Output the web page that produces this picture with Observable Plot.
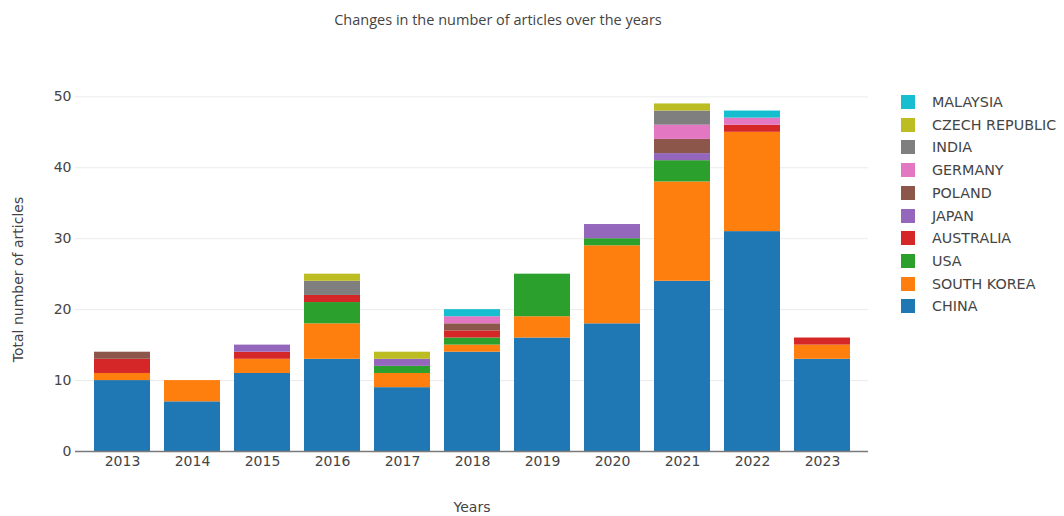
<!DOCTYPE html>
<html><head><meta charset="utf-8">
<script src="https://cdn.jsdelivr.net/npm/d3@7"></script>
<script src="https://cdn.jsdelivr.net/npm/@observablehq/plot@0.6"></script>
<style>
body{margin:0;background:#fff;}
#wrap{position:relative;width:1064px;height:516px;overflow:hidden;}
#title{position:absolute;left:0;width:996px;top:10px;text-align:center;font:14.5px "Open Sans";color:#444;}
#chart{position:absolute;left:0;top:0;}
.lg{position:absolute;left:901px;height:14px;display:flex;align-items:center;font:14.3px "DejaVu Sans";color:#444;white-space:nowrap;}
.lg span.sw{display:inline-block;width:14px;height:14px;margin-right:17px;}
</style></head><body>
<div id="wrap">
<div id="chart"></div>
<div id="title">Changes in the number of articles over the years</div>
<div id="legend"></div>
</div>
<script>
const years = ["2013","2014","2015","2016","2017","2018","2019","2020","2021","2022","2023"];
const countries = ["CHINA","SOUTH KOREA","USA","AUSTRALIA","JAPAN","POLAND","GERMANY","INDIA","CZECH REPUBLIC","MALAYSIA"];
const china      = [10, 7, 11, 13, 9, 14, 16, 18, 24, 31, 13];
const southKorea = [ 1, 3,  2,  5, 2,  1,  3, 11, 14, 14,  2];
const usa        = [ 0, 0,  0,  3, 1,  1,  6,  1,  3,  0,  0];
const australia  = [ 2, 0,  1,  1, 0,  1,  0,  0,  0,  1,  1];
const japan      = [ 0, 0,  1,  0, 1,  0,  0,  2,  1,  0,  0];
const poland     = [ 1, 0,  0,  0, 0,  1,  0,  0,  2,  0,  0];
const germany    = [ 0, 0,  0,  0, 0,  1,  0,  0,  2,  1,  0];
const india      = [ 0, 0,  0,  2, 0,  0,  0,  0,  2,  0,  0];
const czech      = [ 0, 0,  0,  1, 1,  0,  0,  0,  1,  0,  0];
const malaysia   = [ 0, 0,  0,  0, 0,  1,  0,  0,  0,  1,  0];
const yTicks = [0, 10, 20, 30, 40, 50];
const colors = ["#1f77b4","#ff7f0e","#2ca02c","#d62728","#9467bd","#8c564b","#e377c2","#7f7f7f","#bcbd22","#17becf"];

const series = [china, southKorea, usa, australia, japan, poland, germany, india, czech, malaysia];
const data = [];
years.forEach((yr, i) => {
  countries.forEach((c, j) => {
    const v = series[j][i];
    if (v > 0) data.push({year: yr, country: c, value: v});
  });
});

const chart = Plot.plot({
  width: 1064,
  height: 516,
  marginLeft: 75,
  marginRight: 196,
  marginTop: 85,
  marginBottom: 65,
  style: {fontFamily: "DejaVu Sans", fontSize: "14px", color: "#444", background: "#fff"},
  x: {type: "band", domain: years, padding: 0.2},
  y: {domain: [0, 51.6]},
  color: {domain: countries, range: colors},
  marks: [
    Plot.gridY(yTicks.slice(1), {stroke: "#ebebeb", strokeOpacity: 1}),
    Plot.barY(data, {x: "year", y: "value", fill: "country", order: countries}),
    Plot.ruleY([0], {stroke: "#7a7a7a", strokeWidth: 1.5}),
    Plot.axisX({tickSize: 0, tickPadding: 5, label: "Years", labelAnchor: "center", labelOffset: 60, labelArrow: "none", fontSize: 14}),
    Plot.axisY({ticks: yTicks, tickSize: 0, tickPadding: 4, label: null}),
    Plot.text(["Total number of articles"], {frameAnchor: "left", text: d => d, rotate: -90, textAnchor: "middle", dx: -57, dy: 11, fontSize: 14, fill: "#444"})
  ]
});
document.getElementById("chart").appendChild(chart);

const lg = document.getElementById("legend");
countries.slice().reverse().forEach((c, i) => {
  const d = document.createElement("div");
  d.className = "lg";
  d.style.top = (95 + i * 22.7) + "px";
  const sw = document.createElement("span");
  sw.className = "sw";
  sw.style.background = colors[countries.indexOf(c)];
  d.appendChild(sw);
  d.appendChild(document.createTextNode(c));
  lg.appendChild(d);
});
</script>
</body></html>
